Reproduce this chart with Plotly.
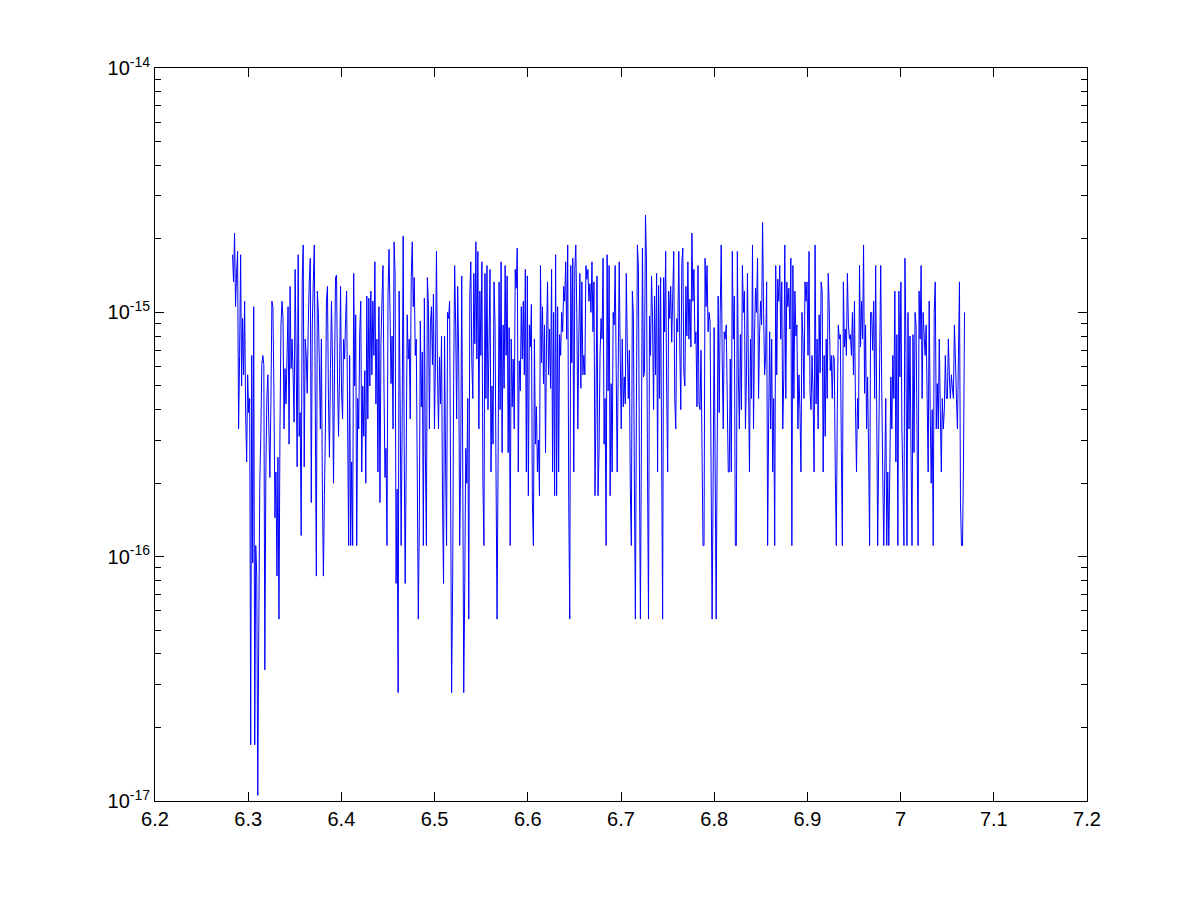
import numpy as np
import plotly.graph_objects as go

# x grid: 2*pi ... 2*pi + pi/4
x_start = 2 * np.pi
x_end = 2 * np.pi + np.pi / 4

# error values in units of 2^-53 (~1.11e-16), left to right
seg1 = [15.5, 12, 19, 9.5, 13, 16, 3, 6, 15.5, 4.5, 8.5, 5, 10, 3.5, 2.2, 5, 3.5, 4, 0.153, 6, 0.85,
        9.5, 0.153, 1, 0.75, 0.095, 0.45, 1.8, 2.8, 5.5, 6, 5.5, 0.31, 2, 4, 5, 3, 1.9, 3.8, 10, 9.5,
        4.3, 1.3, 2, 0.75, 2.3, 0.5, 3, 8, 10, 8.5, 3, 5.3, 3.8, 6, 9.5, 2.6, 11.5, 5.3, 7, 5, 3.2, 13.5,
        6, 2.1, 15.5, 2.8, 3.5, 1.1, 12, 17, 2.1, 7, 6, 4.2, 8, 12, 15, 1.5, 8, 12, 17, 3.5, 0.75, 11, 9,
        5.5, 3, 7, 1.7, 0.75, 1.6, 3, 10, 11.5, 4, 2.3, 5.3, 10, 5.8, 1.8, 5, 12.5, 12.8, 4.8, 2.8, 5,
        11.5, 4.2, 3.3, 7, 5.8, 8.5, 11, 3.2, 1]
seg2 = [6, 1, 2.2, 1, 13, 4.5, 8.8, 1, 4, 3, 7.5, 10, 2, 4.5, 2.8, 5.2, 1.8, 10.5, 3.3, 10.3,
        4.5, 11, 5, 10, 6, 14.5, 3.8, 7, 2, 9.5, 1.5, 6.7, 10, 14, 4.5, 1.9, 2.5, 1, 10.5, 16.3,
        9, 4.6, 7.2, 3, 17.5, 13, 0.7, 1.7, 0.25, 11, 4, 1, 3.2, 18.5, 2.7, 0.7, 2.2, 8.8,
        5.8, 7, 3.3, 12.5, 17.5, 9.5, 12.5, 6, 7, 1.9, 0.5, 1.2, 8.3, 3.7, 6.2, 1, 10.3, 2.4, 1, 12.5, 9.7,
        3, 8, 9.5, 5.5, 10.7, 3, 5.8, 16, 5, 3, 5.9, 3.8, 7.2, 1.5, 0.7, 7.2, 2.2, 1, 9, 8.5,
        10, 1.7, 0.25, 0.7, 4.6, 14, 8, 3.3, 11.5, 6, 1, 2.2, 12.7, 2.2, 0.25, 0.7, 2.5, 1.8, 4, 0.5, 10.5,
        14.5, 5.7, 4, 13, 6.7]
seg3 = [17.5, 5.8, 16, 3, 11, 6, 14.5, 1.8, 1, 13, 4, 14, 3.6, 6.5, 13.5, 2, 4.5, 2.6, 12, 8, 1.9, 0.5,
        2.1, 12, 3.6, 14.5, 2.4, 8, 4.4, 14, 6, 12.7, 2.4, 7.8, 1, 7, 3.7, 5.8, 3, 13.5, 11.3, 16.5, 2,
        5.7, 4.3, 9.5, 5.8, 10, 5, 13.5, 2, 12.7, 1.6, 8, 6.5, 9.7, 1.5, 1, 7, 2.6, 3.7, 2, 2.7, 1.6, 14,
        5.6, 9.5, 4.6, 8, 2.4, 7, 12, 5, 7.7, 4.4, 13.5, 2, 9, 1.6, 15.5, 1.6, 9.5, 2, 7.3, 6, 9, 7.5,
        11.5, 10, 14.5, 7, 17, 1.5, 0.5, 14, 5.6, 15, 2, 13.5, 17, 8.8, 3, 7.2, 13, 4.4, 12, 5, 6, 5, 14,
        12.3, 13.5, 10, 11.8, 9, 14.5, 7.5, 12, 1.6, 3.7, 12.7, 1.6, 2.4, 6, 8.5]
seg4 = [7, 15, 2.6, 4, 1, 15.5, 4.3, 14, 1.6, 4.6, 2, 9, 8, 14, 5.2, 2, 5.3, 14.5, 6, 3, 7, 3.7, 4.9,
        3.8, 13, 6.5, 4, 6.3, 1.7, 1, 11, 8.8, 1.9, 0.5, 3.6, 17, 13.8, 2.1, 0.5, 2.8, 16.5, 4.9, 5.1,
        22.5, 14.5, 2.1, 0.5, 8.7, 6, 12.7, 8.5, 3.6, 10.5, 5, 13, 2, 11.6, 4, 12.5, 2.4, 0.5, 12.5, 7.5,
        16, 4.2, 2, 11, 8.5, 11.5, 6.8, 10.5, 16, 4, 3, 8.5, 7.5, 16, 6.5, 3.6, 14.3, 16.5, 5.1, 4.5,
        11.5, 7.2, 14.5, 7, 10.2, 6.5, 19, 10, 13.5, 6.7, 7.5, 3.7, 14, 3.8, 3.6, 6.3, 2.5, 1, 1, 15, 9.5,
        14, 7.5, 9, 8.2, 2, 0.5, 1.8, 7.8, 2.2, 0.5, 2.4, 10.5, 3.5, 8.8, 17, 5.8, 3, 7.5, 7, 8, 4, 2, 2]
seg5 = [5.8, 2, 16, 7, 10.5, 1, 1, 16, 5, 3, 7.3, 3.6, 14, 9, 11, 3, 4.9, 13, 5,
        2, 7, 4, 17, 3, 7.2, 11.3, 9, 15, 4, 7.3, 10, 8, 21, 9, 5, 6, 12, 1, 3.2,
        7.5, 3, 7, 2, 4, 1, 14, 5, 12.3, 10, 14, 7, 12, 3, 4.9, 17, 4, 12, 9.5,
        11.3, 7.7, 15, 1, 14, 4, 11, 7.2, 8, 3, 5, 3.6, 2, 9, 7, 4, 12, 10,
        12, 6, 16, 4.2, 3.6, 6, 4.2, 2, 17, 3.8, 7, 3, 8.8, 5.1, 12, 11, 2, 6, 2.8, 7, 4, 13,
        9.5, 5.2, 6, 4, 6, 5.8, 2, 1, 3.6, 8, 7, 7.3, 2.5, 1, 12, 6.5, 7.7, 6, 13, 8, 7, 7.3, 6]
seg6 = [9, 5, 10, 3.7, 2, 4, 3, 14, 6.5, 10, 7, 17, 4.2, 8, 3, 4.9, 2.4, 1, 9,
        9, 6.3, 10, 4, 14, 3.7, 1, 2.5, 6, 14, 4.4, 2, 1, 2, 4, 1, 2, 1, 2, 4.9, 3, 6, 4, 11, 2.2,
        7.3, 1, 11, 4.9, 12, 3, 1.8, 1, 15, 6.5, 1, 9, 3, 7.2, 2.4, 1, 7.3, 2.4, 9, 8,
        2.8, 1, 11, 7, 14, 4, 9, 7.3, 6, 8, 4, 2, 10, 3.6, 1.8, 3.6, 1, 9,
        12, 3, 4.6, 3, 7, 3.6, 2, 4, 3, 3.6, 6, 4, 4, 7, 4.9, 4, 5, 4.4, 4, 8, 5.8, 4, 3, 6, 12, 1.5, 1,
        1, 2.2, 9]

unit = 2.0 ** -53

x_ticks = [6.2, 6.3, 6.4, 6.5, 6.6, 6.7, 6.8, 6.9, 7.0, 7.1, 7.2]
x_ticktext = ["6.2", "6.3", "6.4", "6.5", "6.6", "6.7", "6.8", "6.9", "7", "7.1", "7.2"]
y_ticks = [1e-17, 1e-16, 1e-15, 1e-14]
y_ticktext = ["10<sup>-17</sup>", "10<sup>-16</sup>", "10<sup>-15</sup>", "10<sup>-14</sup>"]
y_minor = [m * 10.0 ** e for e in (-17, -16, -15) for m in range(2, 10)]

vals = np.concatenate([seg1, seg2, seg3, seg4, seg5, seg6]) * unit
xs = np.linspace(x_start, x_end, len(vals))

fig = go.Figure()
fig.add_trace(go.Scatter(x=xs, y=vals, mode="lines",
                         line=dict(color="#0000FF", width=1, simplify=False),
                         showlegend=False, hoverinfo="skip"))

axis_common = dict(showline=True, linecolor="black", linewidth=1, mirror="ticks",
                   ticks="inside", ticklen=9, tickcolor="black", tickwidth=1,
                   showgrid=False, zeroline=False,
                   tickfont=dict(family="Liberation Sans, Arial, Helvetica, sans-serif",
                                 size=20, color="black"))

fig.update_xaxes(range=[6.2, 7.2], tickmode="array", tickvals=x_ticks,
                 ticktext=x_ticktext, **axis_common)
fig.update_yaxes(type="log", range=[-17, -14], tickmode="array", tickvals=y_ticks,
                 ticktext=y_ticktext,
                 minor=dict(tickmode="array", tickvals=y_minor, ticks="inside",
                            ticklen=6, tickcolor="black", tickwidth=1, showgrid=False),
                 **axis_common)

fig.update_layout(width=1192, height=892, autosize=False,
                  margin=dict(l=147, r=113, t=60, b=99, pad=0),
                  paper_bgcolor="white", plot_bgcolor="white")

fig.write_html("out.html")
